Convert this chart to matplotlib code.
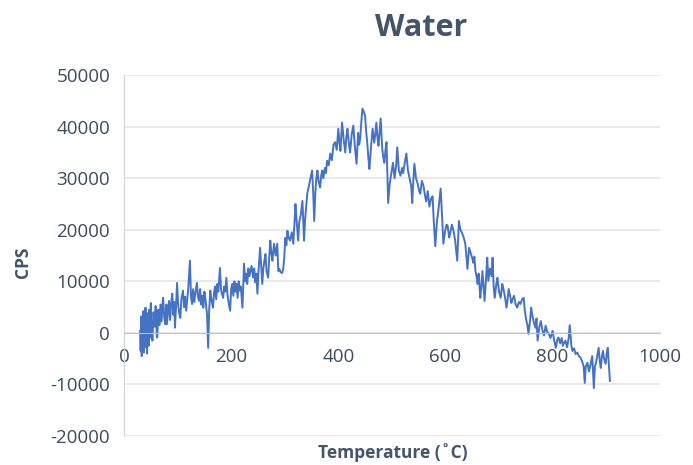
import matplotlib
matplotlib.use("Agg")
import matplotlib.pyplot as plt

plt.rcParams['axes.unicode_minus'] = False

temp_start = [30, 31, 32, 33, 34, 35, 36, 37, 38, 39, 40, 41, 42, 43, 44, 45, 46, 47, 48, 49, 50,
              51, 53, 55, 57, 59, 61, 62, 64, 66, 68, 70, 72, 73, 75, 77, 79, 80, 82, 84, 86,
              88, 90, 92, 94, 95, 97, 99]
cps_start = [400, -3500, 3200, -4500, 2600, -2000, 4200, -3800, 1500, -1200, 4900, -2800, 3000,
             -4000, 3800, 500, -2500, 4500, -1000, 2500, 5800, 800, -1500, 4000, 1200, 5200, -500,
             -900, 4500, 1500, 5500, 2200, 6000, 6800, 3000, 1700, 5500, 1700, 4000, 6200, 2500,
             5800, 7600, 3500, 6000, 1000, 5000, 9700]

temp_low = [101, 103, 105, 107, 110, 112, 114, 116, 118, 120, 123, 125, 127, 129, 131, 133, 136,
            138, 140, 142, 144, 146, 148, 150, 152, 155, 157, 159, 161, 163, 166, 168, 170, 172,
            174, 176, 179, 181, 183, 185, 187, 189, 191, 193, 195, 198, 200, 202, 204, 206, 208]
cps_low = [5500, 3800, 2900, 6500, 8200, 5000, 7000, 4300, 6500, 8800, 14000, 7000, 5600, 8500,
           6000, 7600, 9700, 7000, 6200, 8500, 5500, 7200, 4900, 8000, 6500, 3500, -2900, 4500,
           8200, 6500, 4900, 7800, 9000, 6500, 9500, 8000, 12600, 8500, 7500, 6800, 9000, 8000,
           10700, 7500, 6000, 4300, 8500, 9500, 7200, 10000, 8000]

temp_mid = [210, 212, 214, 216, 218, 221, 224, 226, 228, 230, 232, 234, 236, 238, 241, 243, 245,
            247, 249, 251, 254, 256, 258, 260, 262, 264, 266, 269, 271, 273, 275, 277, 280, 283,
            286, 288, 290, 292, 295, 297, 299]
cps_mid = [9500, 6800, 10000, 8200, 9000, 4900, 13400, 10000, 11500, 9500, 12500, 11000, 12000,
           13000, 10700, 12500, 9800, 11500, 7600, 12000, 16500, 13000, 9500, 12500, 14000, 15300,
           12000, 10700, 14500, 17900, 15500, 14000, 17300, 15000, 17300, 12000, 12400, 11800,
           11600, 12300, 14500]

temp_up = [301, 303, 305, 307, 310, 313, 316, 318, 320, 322, 325, 327, 330, 333, 336, 338, 340,
           342, 345, 348, 351, 353, 355, 357, 359, 361, 363, 366, 368, 370, 372, 375, 377, 379,
           382, 385, 388, 391]
cps_up = [18400, 17000, 19800, 18500, 17900, 19500, 17300, 21000, 25000, 22000, 17900, 21500,
          23000, 25600, 17900, 22000, 24500, 27000, 28500, 30100, 31500, 27500, 21700, 27000,
          30000, 31500, 29500, 28200, 30500, 31500, 30000, 32000, 31000, 33400, 32500, 34800,
          33500, 36500]

temp_peak = [394, 397, 400, 402, 404, 407, 410, 413, 415, 417, 420, 422, 425, 428, 431, 434, 437,
             439, 441, 443, 445, 448, 450, 452, 454, 456, 458, 461, 464, 467, 469, 471, 473, 475,
             477, 479, 482, 484, 486, 488, 490, 493, 496, 499]
cps_peak = [37000, 35500, 39600, 37000, 35300, 40800, 37500, 35000, 38000, 39600, 36500, 35000,
            38500, 40200, 36000, 32800, 38800, 36500, 37900, 41000, 43500, 42800, 42100, 39000,
            36900, 34000, 31800, 36000, 39600, 36900, 38500, 40800, 38000, 36300, 39000, 41600,
            35700, 34000, 33000, 35500, 37000, 25200, 29000, 31000]

temp_down = [502, 505, 508, 510, 513, 516, 519, 521, 524, 527, 530, 533, 536, 538, 540, 542, 545,
             548, 551, 553, 556, 559, 562, 564, 567, 570, 573, 576, 578, 581, 584, 587, 589, 591,
             594, 596, 599]
cps_down = [33000, 30000, 32500, 36000, 31500, 30500, 32000, 31000, 33000, 34800, 31500, 30000,
            28500, 25200, 29500, 32800, 30000, 29000, 27500, 27000, 29500, 28500, 26500, 25500,
            27500, 24500, 26000, 26500, 22000, 16800, 21500, 24000, 26000, 28000, 22000, 17300,
            19500]

temp_fall = [602, 604, 607, 609, 612, 615, 618, 622, 625, 628, 631, 634, 637, 639, 641, 644, 647,
             650, 652, 654, 656, 658, 660, 662, 665, 667, 669, 671, 673, 676, 678, 680, 683, 686,
             688, 690, 692, 695, 697, 700, 703, 706, 708, 711, 714, 716, 718, 721, 723, 725, 728,
             731, 734, 737, 740, 743, 746, 748, 750, 753, 755, 758, 760, 762, 765, 768, 770, 772,
             775, 778, 781]
cps_fall = [21000, 20800, 18500, 19400, 21000, 19800, 18000, 14000, 21700, 20000, 19400, 18500,
            17300, 15000, 12400, 16500, 15500, 14500, 13600, 14800, 12000, 11000, 9500, 11500,
            6800, 9000, 12000, 9000, 6200, 11000, 14600, 10100, 12500, 11000, 14600, 9000, 6800,
            9500, 10700, 8000, 6800, 9500, 8700, 7000, 4900, 6500, 8500, 7000, 5800, 6500, 7200,
            5500, 4900, 6000, 5600, 6500, 6800, 4500, 2900, 1500, -200, 2500, 4900, 3500, 2000,
            1000, 2800, -1500, 1000, 2300, 500]

temp_end = [784, 787, 790, 793, 796, 800, 803, 806, 809, 811, 814, 817, 819, 822, 824, 827, 830,
            832, 835, 837, 840, 843, 846, 849, 852, 855, 858, 860, 862, 865, 868, 871, 874, 877,
            879, 881, 884, 886, 888, 890, 892, 894, 896, 899, 901, 903, 905, 907]
cps_end = [-500, 1400, 200, -200, -1000, 400, -1500, -2900, -1200, -900, -2000, -1000, -2500,
           -1800, -1500, -2800, -1000, 1500, -2500, -3500, -3000, -4100, -3800, -4500, -4800,
           -5500, -6500, -9700, -6500, -5800, -7500, -6000, -4500, -10700, -6500, -5800, -4000,
           -2900, -5500, -6800, -4500, -3500, -5000, -6000, -4000, -2900, -6000, -9300]

temperature = temp_start + temp_low + temp_mid + temp_up + temp_peak + temp_down + temp_fall + temp_end
cps = cps_start + cps_low + cps_mid + cps_up + cps_peak + cps_down + cps_fall + cps_end
assert len(temperature) == len(cps)

x_ticks = [0, 200, 400, 600, 800, 1000]
y_ticks = [-20000, -10000, 0, 10000, 20000, 30000, 40000, 50000]

text_color = '#44546A'
tick_color = '#3E4B5C'
font = 'Open Sans'

fig = plt.figure(figsize=(6.93, 4.65), dpi=100)
ax = fig.add_axes([0.179, 0.0624, 0.773, 0.776])

ax.plot(temperature, cps, color='#4472C4', linewidth=1.4)

ax.set_xlim(0, 1000)
ax.set_ylim(-20000, 50000)
ax.set_xticks(x_ticks)
ax.set_yticks(y_ticks)
ax.grid(axis='y', color='#E3E6EA', linewidth=1.2)
ax.set_axisbelow(True)

# Eje x cruzando en cero, como en Excel
for side in ['top', 'right']:
    ax.spines[side].set_visible(False)
ax.spines['bottom'].set_position(('data', 0))
ax.spines['bottom'].set_color('#BFC3C8')
ax.spines['left'].set_color('#D0D3D7')
ax.tick_params(axis='both', length=0, labelsize=13.5, labelcolor=tick_color)
ax.tick_params(axis='x', pad=11)
ax.tick_params(axis='y', pad=10)
for lbl in ax.get_xticklabels() + ax.get_yticklabels():
    lbl.set_fontfamily(font)

fig.text(0.608, 0.940, 'Water', ha='center', va='center', fontsize=22,
         fontweight='bold', color=text_color, family=font)
fig.text(0.033, 0.437, 'CPS', ha='center', va='center', rotation=90, fontsize=12.5,
         fontweight='bold', color=text_color, family=font)
fig.text(0.567, 0.027, 'Temperature (˚C)', ha='center', va='center', fontsize=12.5,
         fontweight='bold', color=text_color, family=[font, 'DejaVu Sans'])

fig.savefig('out.png', dpi=100)
